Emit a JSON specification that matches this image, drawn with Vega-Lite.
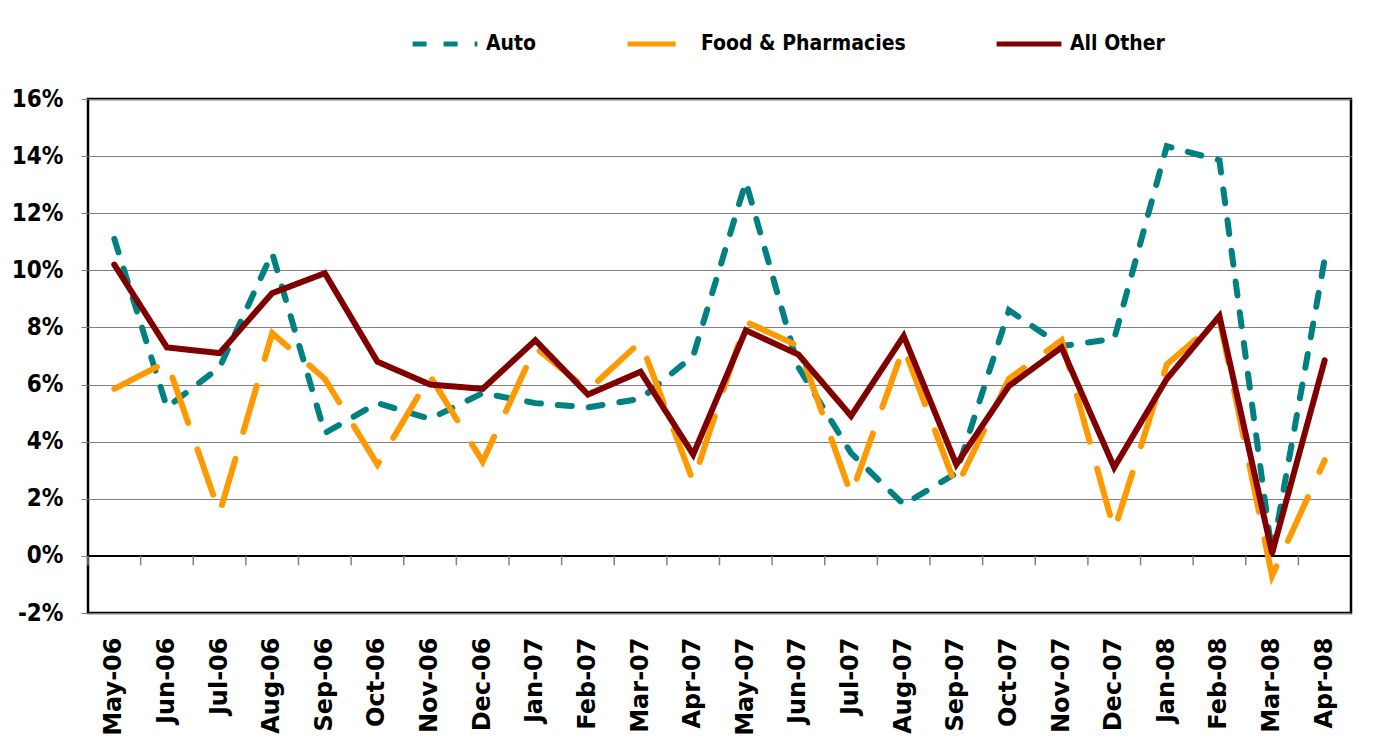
{
  "$schema": "https://vega.github.io/schema/vega-lite/v6.json",
  "autosize": "none",
  "padding": {"left": 88, "top": 99, "right": 27, "bottom": 133},
  "width": 1263,
  "height": 514,
  "background": "#ffffff",
  "config": {
    "view": {"stroke": "#000000", "strokeWidth": 2.5},
    "axis": {"labelColor": "#000000"}
  },
  "datasets": {
    "sales": [
      {"month": "May-06", "series": "Auto", "value": 11.1},
      {"month": "Jun-06", "series": "Auto", "value": 5.2},
      {"month": "Jul-06", "series": "Auto", "value": 6.6},
      {"month": "Aug-06", "series": "Auto", "value": 10.6},
      {"month": "Sep-06", "series": "Auto", "value": 4.3},
      {"month": "Oct-06", "series": "Auto", "value": 5.35},
      {"month": "Nov-06", "series": "Auto", "value": 4.8},
      {"month": "Dec-06", "series": "Auto", "value": 5.7},
      {"month": "Jan-07", "series": "Auto", "value": 5.35},
      {"month": "Feb-07", "series": "Auto", "value": 5.2},
      {"month": "Mar-07", "series": "Auto", "value": 5.5},
      {"month": "Apr-07", "series": "Auto", "value": 7.0},
      {"month": "May-07", "series": "Auto", "value": 13.1},
      {"month": "Jun-07", "series": "Auto", "value": 6.6},
      {"month": "Jul-07", "series": "Auto", "value": 3.6},
      {"month": "Aug-07", "series": "Auto", "value": 1.8},
      {"month": "Sep-07", "series": "Auto", "value": 2.9},
      {"month": "Oct-07", "series": "Auto", "value": 8.6},
      {"month": "Nov-07", "series": "Auto", "value": 7.35},
      {"month": "Dec-07", "series": "Auto", "value": 7.6},
      {"month": "Jan-08", "series": "Auto", "value": 14.35},
      {"month": "Feb-08", "series": "Auto", "value": 13.85},
      {"month": "Mar-08", "series": "Auto", "value": 0.05},
      {"month": "Apr-08", "series": "Auto", "value": 10.4},
      {"month": "May-06", "series": "Food & Pharmacies", "value": 5.85},
      {"month": "Jun-06", "series": "Food & Pharmacies", "value": 6.8},
      {"month": "Jul-06", "series": "Food & Pharmacies", "value": 1.5},
      {"month": "Aug-06", "series": "Food & Pharmacies", "value": 7.8},
      {"month": "Sep-06", "series": "Food & Pharmacies", "value": 6.2},
      {"month": "Oct-06", "series": "Food & Pharmacies", "value": 3.2},
      {"month": "Nov-06", "series": "Food & Pharmacies", "value": 6.3},
      {"month": "Dec-06", "series": "Food & Pharmacies", "value": 3.3},
      {"month": "Jan-07", "series": "Food & Pharmacies", "value": 7.3},
      {"month": "Feb-07", "series": "Food & Pharmacies", "value": 5.8},
      {"month": "Mar-07", "series": "Food & Pharmacies", "value": 7.5},
      {"month": "Apr-07", "series": "Food & Pharmacies", "value": 2.6},
      {"month": "May-07", "series": "Food & Pharmacies", "value": 8.2},
      {"month": "Jun-07", "series": "Food & Pharmacies", "value": 7.35},
      {"month": "Jul-07", "series": "Food & Pharmacies", "value": 2.15},
      {"month": "Aug-07", "series": "Food & Pharmacies", "value": 7.3},
      {"month": "Sep-07", "series": "Food & Pharmacies", "value": 2.4},
      {"month": "Oct-07", "series": "Food & Pharmacies", "value": 6.2},
      {"month": "Nov-07", "series": "Food & Pharmacies", "value": 7.55},
      {"month": "Dec-07", "series": "Food & Pharmacies", "value": 0.9},
      {"month": "Jan-08", "series": "Food & Pharmacies", "value": 6.7},
      {"month": "Feb-08", "series": "Food & Pharmacies", "value": 8.3},
      {"month": "Mar-08", "series": "Food & Pharmacies", "value": -0.7},
      {"month": "Apr-08", "series": "Food & Pharmacies", "value": 3.35},
      {"month": "May-06", "series": "All Other", "value": 10.2},
      {"month": "Jun-06", "series": "All Other", "value": 7.3},
      {"month": "Jul-06", "series": "All Other", "value": 7.1},
      {"month": "Aug-06", "series": "All Other", "value": 9.2},
      {"month": "Sep-06", "series": "All Other", "value": 9.9},
      {"month": "Oct-06", "series": "All Other", "value": 6.8},
      {"month": "Nov-06", "series": "All Other", "value": 6.0},
      {"month": "Dec-06", "series": "All Other", "value": 5.85},
      {"month": "Jan-07", "series": "All Other", "value": 7.55},
      {"month": "Feb-07", "series": "All Other", "value": 5.65},
      {"month": "Mar-07", "series": "All Other", "value": 6.45},
      {"month": "Apr-07", "series": "All Other", "value": 3.55},
      {"month": "May-07", "series": "All Other", "value": 7.9},
      {"month": "Jun-07", "series": "All Other", "value": 7.05},
      {"month": "Jul-07", "series": "All Other", "value": 4.9},
      {"month": "Aug-07", "series": "All Other", "value": 7.7},
      {"month": "Sep-07", "series": "All Other", "value": 3.2},
      {"month": "Oct-07", "series": "All Other", "value": 5.95},
      {"month": "Nov-07", "series": "All Other", "value": 7.3},
      {"month": "Dec-07", "series": "All Other", "value": 3.1},
      {"month": "Jan-08", "series": "All Other", "value": 6.2},
      {"month": "Feb-08", "series": "All Other", "value": 8.4},
      {"month": "Mar-08", "series": "All Other", "value": 0.1},
      {"month": "Apr-08", "series": "All Other", "value": 6.85}
    ]
  },
  "data": {"name": "sales"},
  "encoding": {
    "x": {
      "field": "month",
      "type": "ordinal",
      "sort": ["May-06","Jun-06","Jul-06","Aug-06","Sep-06","Oct-06","Nov-06","Dec-06","Jan-07","Feb-07","Mar-07","Apr-07","May-07","Jun-07","Jul-07","Aug-07","Sep-07","Oct-07","Nov-07","Dec-07","Jan-08","Feb-08","Mar-08","Apr-08"],
      "scale": {"type": "band", "paddingInner": 0, "paddingOuter": 0},
      "axis": {
        "title": null,
        "orient": "bottom",
        "domain": false,
        "ticks": false,
        "tickSize": 0,
        "grid": false,
        "labelAngle": -90,
        "labelAlign": "right",
        "labelBaseline": "middle",
        "labelPadding": 24,
        "labelFont": "DejaVu Sans",
        "labelFontWeight": "bold",
        "labelFontSize": 24,
        "labelColor": "#000000"
      }
    }
  },
  "layer": [
    {
      "mark": {"type": "rule", "color": "#000000", "strokeWidth": 1.5},
      "encoding": {"x": null, "y": {"datum": 0, "type": "quantitative"}}
    },
    {
      "transform": [{"filter": "datum.series === 'All Other'"}],
      "mark": {"type": "rule", "color": "#808080", "strokeWidth": 1.5},
      "encoding": {
        "x": {"field": "month", "type": "ordinal", "bandPosition": 0,
              "sort": ["May-06","Jun-06","Jul-06","Aug-06","Sep-06","Oct-06","Nov-06","Dec-06","Jan-07","Feb-07","Mar-07","Apr-07","May-07","Jun-07","Jul-07","Aug-07","Sep-07","Oct-07","Nov-07","Dec-07","Jan-08","Feb-08","Mar-08","Apr-08"]},
        "y": {"datum": 0, "type": "quantitative"},
        "y2": {"datum": -0.33}
      }
    },
    {
      "mark": {"type": "line", "strokeWidth": 6, "strokeCap": "round", "strokeJoin": "miter"},
      "encoding": {
        "x": {"field": "month", "type": "ordinal", "bandPosition": 0.5,
              "sort": ["May-06","Jun-06","Jul-06","Aug-06","Sep-06","Oct-06","Nov-06","Dec-06","Jan-07","Feb-07","Mar-07","Apr-07","May-07","Jun-07","Jul-07","Aug-07","Sep-07","Oct-07","Nov-07","Dec-07","Jan-08","Feb-08","Mar-08","Apr-08"]},
        "y": {
          "field": "value",
          "type": "quantitative",
          "scale": {"domain": [-2, 16], "nice": false, "zero": false},
          "axis": {
            "title": null,
            "values": [-2, 0, 2, 4, 6, 8, 10, 12, 14, 16],
            "labelExpr": "datum.value + '%'",
            "domain": false,
            "grid": true,
            "gridColor": "#808080",
            "gridWidth": 1,
            "tickColor": "#808080",
            "tickSize": 7,
            "labelPadding": 18,
            "labelFont": "DejaVu Sans Condensed, Liberation Sans Narrow, DejaVu Sans, sans-serif",
            "labelFontWeight": "bold",
            "labelFontSize": 24,
            "labelColor": "#000000"
          }
        },
        "color": {
          "field": "series",
          "type": "nominal",
          "sort": ["Auto", "Food & Pharmacies", "All Other"],
          "scale": {"domain": ["Auto", "Food & Pharmacies", "All Other"], "range": ["#008080", "#FF9900", "#800000"]},
          "legend": {
            "title": null,
            "orient": "none",
            "direction": "horizontal",
            "legendX": 322,
            "legendY": -90,
            "symbolType": "stroke",
            "symbolSize": 4200,
            "symbolStrokeWidth": 5,
            "columnPadding": 80,
            "labelOffset": 6,
            "labelFont": "DejaVu Sans Condensed, Liberation Sans Narrow, DejaVu Sans, sans-serif",
            "labelFontWeight": "bold",
            "labelFontSize": 21,
            "labelColor": "#000000",
            "labelLimit": 400
          }
        },
        "strokeDash": {
          "field": "series",
          "type": "nominal",
          "sort": ["Auto", "Food & Pharmacies", "All Other"],
          "scale": {"domain": ["Auto", "Food & Pharmacies", "All Other"], "range": [[14, 17], [48, 28], [1, 0]]},
          "legend": null
        }
      }
    }
  ]
}
